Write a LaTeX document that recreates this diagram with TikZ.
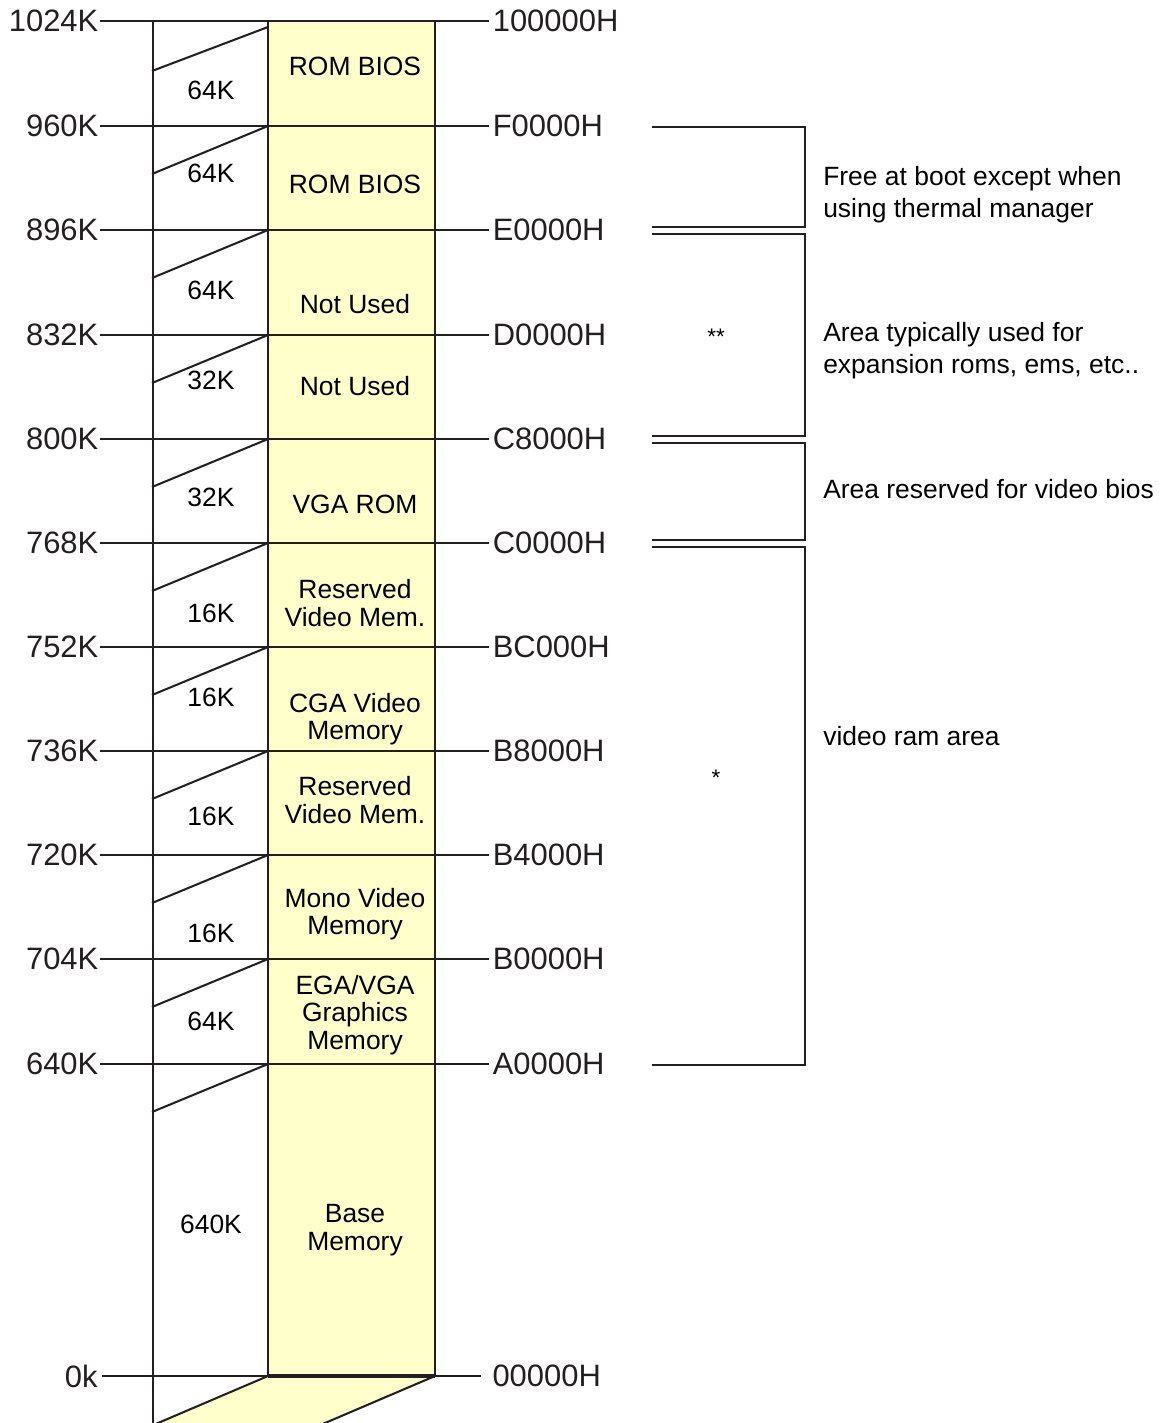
\documentclass[tikz,border=0pt]{standalone}
\usepackage{fontspec}
\setmainfont{Liberation Sans}
\usetikzlibrary{positioning}
\definecolor{memyellow}{HTML}{FFFFCC}
\definecolor{ink}{HTML}{231F20}
\tikzset{addr/.style={font=\fontsize{22}{24}\selectfont,inner sep=1pt,text=ink},kbaddr/.style={addr,anchor=east},hexaddr/.style={addr,anchor=west,inner sep=2.5pt},cell/.style={font=\fontsize{18.8}{19.6}\selectfont,align=center,inner sep=0pt},size/.style={font=\fontsize{18.8}{20}\selectfont,inner sep=0pt},note/.style={font=\fontsize{18.8}{22.7}\selectfont,align=left,anchor=north west,inner sep=0pt},asterisk/.style={font=\fontsize{16}{17}\selectfont,inner sep=0pt,anchor=base},rule/.style={draw=ink,line width=1.45pt},bracket/.style={draw=ink,line width=1.2pt}}

\begin{document}
\begin{tikzpicture}[x=0.025cm,y=-0.025cm]
\useasboundingbox (0,0) rectangle (1163,1423);
\fill[memyellow] (268,21) rectangle (435,1376);
\fill[memyellow] (268,1376) -- (435,1376) -- (318,1426) -- (151,1426) -- cycle;
\draw[rule] (153,21) -- (153,1426);
\draw[rule] (268,21) -- (268,1376);
\draw[rule] (435,21) -- (435,1376);
\draw[rule] (268,1376) -- (151,1426) (435,1376) -- (318,1426);
\draw[draw=ink,line width=3pt] (268,1376) -- (435,1376);
\node[kbaddr] (kb1024) at (100,21) {1024K};
\node[kbaddr] (kb960) at (100,126) {960K};
\node[kbaddr] (kb896) at (100,230) {896K};
\node[kbaddr] (kb832) at (100,335) {832K};
\node[kbaddr] (kb800) at (100,439) {800K};
\node[kbaddr] (kb768) at (100,543) {768K};
\node[kbaddr] (kb752) at (100,647) {752K};
\node[kbaddr] (kb736) at (100,751) {736K};
\node[kbaddr] (kb720) at (100,855) {720K};
\node[kbaddr] (kb704) at (100,959) {704K};
\node[kbaddr] (kb640) at (100,1064) {640K};
\node[kbaddr,inner sep=3pt] (kb0) at (102,1376) {0k};
\node[hexaddr] (hx100000) at (489,21) {100000H};
\node[hexaddr] (hxF0000) at (489,126) {F0000H};
\node[hexaddr] (hxE0000) at (489,230) {E0000H};
\node[hexaddr] (hxD0000) at (489,335) {D0000H};
\node[hexaddr] (hxC8000) at (489,439) {C8000H};
\node[hexaddr] (hxC0000) at (489,543) {C0000H};
\node[hexaddr] (hxBC000) at (489,647) {BC000H};
\node[hexaddr] (hxB8000) at (489,751) {B8000H};
\node[hexaddr] (hxB4000) at (489,855) {B4000H};
\node[hexaddr] (hxB0000) at (489,959) {B0000H};
\node[hexaddr] (hxA0000) at (489,1064) {A0000H};
\node[hexaddr,inner sep=8pt] (hx00000) at (481,1376) {00000H};
\draw[rule] (kb1024) -- (hx100000);
\draw[rule] (kb960) -- (hxF0000);
\draw[rule] (kb896) -- (hxE0000);
\draw[rule] (kb832) -- (hxD0000);
\draw[rule] (kb800) -- (hxC8000);
\draw[rule] (kb768) -- (hxC0000);
\draw[rule] (kb752) -- (hxBC000);
\draw[rule] (kb736) -- (hxB8000);
\draw[rule] (kb720) -- (hxB4000);
\draw[rule] (kb704) -- (hxB0000);
\draw[rule] (kb640) -- (hxA0000);
\draw[rule] (kb0) -- (hx00000);
\draw[rule] (268,27) -- (152,71);
\draw[rule] (268,126) -- (152,174);
\draw[rule] (268,230) -- (152,278);
\draw[rule] (268,335) -- (152,383);
\draw[rule] (268,439) -- (152,487);
\draw[rule] (268,543) -- (152,591);
\draw[rule] (268,647) -- (152,695);
\draw[rule] (268,751) -- (152,799);
\draw[rule] (268,855) -- (152,903);
\draw[rule] (268,959) -- (152,1007);
\draw[rule] (268,1064) -- (152,1112);
\node[size] (sz1) at (211,90) {64K};
\node[size] (sz2) at (211,173) {64K};
\node[size] (sz3) at (211,290) {64K};
\node[size] (sz4) at (211,380) {32K};
\node[size] (sz5) at (211,497) {32K};
\node[size] (sz6) at (211,613) {16K};
\node[size] (sz7) at (211,697) {16K};
\node[size] (sz8) at (211,816) {16K};
\node[size] (sz9) at (211,933) {16K};
\node[size] (sz10) at (211,1021) {64K};
\node[size] (sz11) at (211,1224) {640K};
\node[cell] (rom1) at (355,66) {ROM BIOS};
\node[cell] (rom2) at (355,184) {ROM BIOS};
\node[cell] (unused1) at (355,304) {Not Used};
\node[cell] (unused2) at (355,386) {Not Used};
\node[cell] (vgarom) at (355,504) {VGA ROM};
\node[cell] (resv1) at (355,603) {Reserved\\Video Mem.};
\node[cell] (cga) at (355,719) {CGA Video\\Memory};
\node[cell] (resv2) at (355,800) {Reserved\\Video Mem.};
\node[cell] (mono) at (355,914) {Mono Video\\Memory};
\node[cell] (ega) at (355,1015) {EGA/VGA\\Graphics\\Memory};
\node[cell] (base) at (355,1230) {Base\\Memory};
\coordinate (freeTop) at (652,127);
\coordinate (freeBot) at (652,227);
\coordinate (expTop) at (652,234);
\coordinate (expBot) at (652,436);
\coordinate (biosTop) at (652,443);
\coordinate (biosBot) at (652,540);
\coordinate (vramTop) at (652,547);
\coordinate (vramBot) at (652,1065);
\draw[bracket] (freeTop) -- ++(153,0) |- (freeBot);
\draw[bracket] (expTop) -- ++(153,0) |- (expBot);
\draw[bracket] (biosTop) -- ++(153,0) |- (biosBot);
\draw[bracket] (vramTop) -- ++(153,0) |- (vramBot);
\node[asterisk] (dblstar) at (716,344) {**};
\node[asterisk] (onestar) at (716,785) {*};
\node[note] (freenote) at (823,166) {Free at boot except when\\using thermal manager};
\node[note] (expnote) at (823,322) {Area typically used for\\expansion roms, ems, etc..};
\node[note] (biosnote) at (823,479) {Area reserved for video bios};
\node[note] (vramnote) at (823,726) {video ram area};
\end{tikzpicture}
\end{document}
